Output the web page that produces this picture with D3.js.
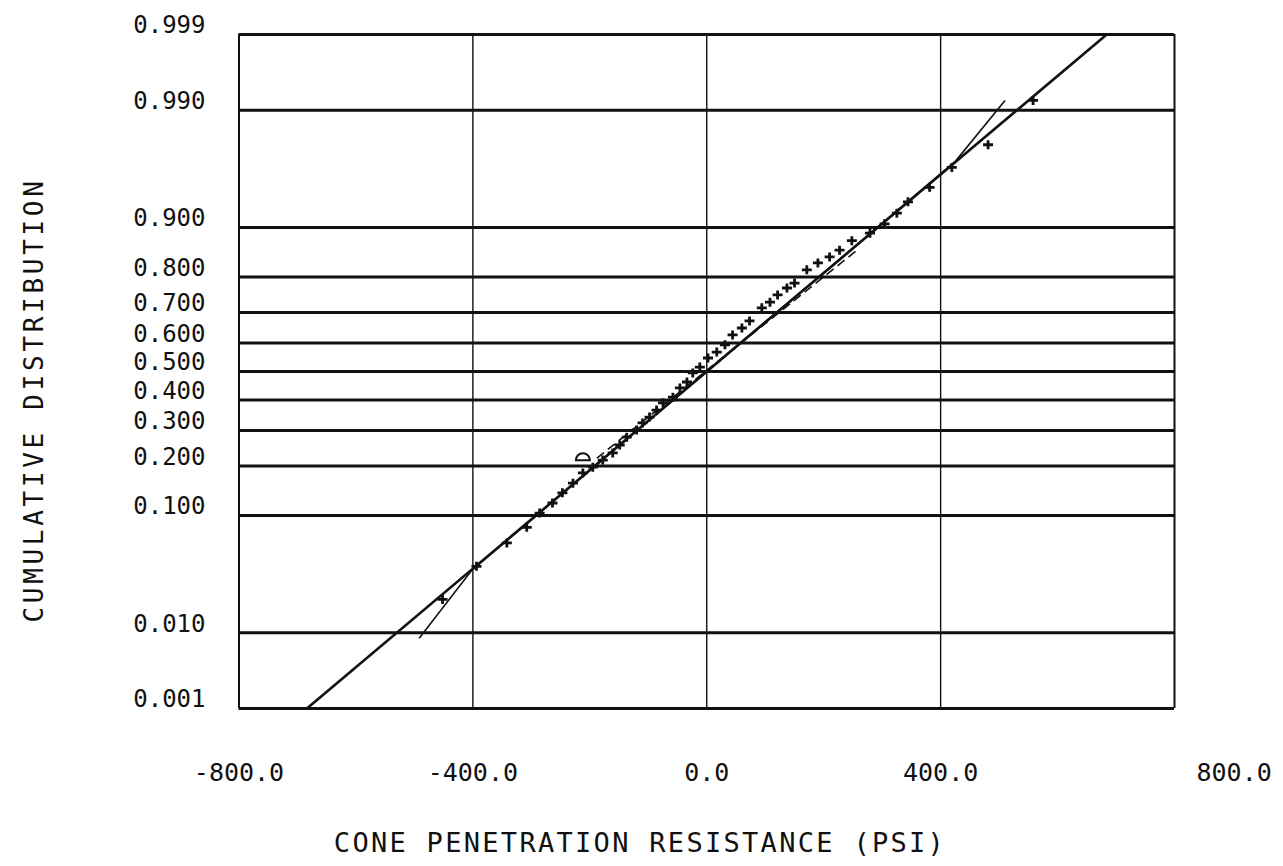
<!DOCTYPE html>
<html>
<head>
<meta charset="utf-8">
<script src="https://cdnjs.cloudflare.com/ajax/libs/d3/7.8.5/d3.min.js"></script>
<style>
	body { margin: 0; background: #fff; }
	text { font-family: "DejaVu Sans Mono", monospace; fill: #111; }
</style>
</head>
<body>
<div id="chart"></div>
<script>

// Etiquetas del eje de probabilidad
var probTicks = [0.001, 0.010, 0.100, 0.200, 0.300, 0.400, 0.500, 0.600, 0.700, 0.800, 0.900, 0.990, 0.999];
var probLabels = ["0.001", "0.010", "0.100", "0.200", "0.300", "0.400", "0.500", "0.600", "0.700", "0.800", "0.900", "0.990", "0.999"];

// Etiquetas del eje x
var xTicks = [-800, -400, 0, 400, 800];
var xLabels = ["-800.0", "-400.0", "0.0", "400.0", "800.0"];

// Observaciones ordenadas (psi) y su distribucion acumulada
var obsValues = [-451, -393, -341, -307, -285, -263, -246, -228, -211, -194, -177, -160, -148, -136,
	-119, -109, -97, -85, -74, -57, -45, -33, -23, -11, 3, 18, 32, 45, 61, 74, 95, 109, 122, 138,
	151, 172, 191, 211, 228, 249, 280, 305, 326, 345, 382, 420, 482, 559];
var obsProbs = [0.021, 0.041, 0.063, 0.082, 0.103, 0.120, 0.139, 0.159, 0.182, 0.196, 0.214, 0.233,
	0.255, 0.278, 0.300, 0.322, 0.341, 0.364, 0.388, 0.408, 0.440, 0.461, 0.493, 0.514, 0.546, 0.567,
	0.592, 0.626, 0.649, 0.672, 0.713, 0.730, 0.751, 0.770, 0.783, 0.816, 0.832, 0.845, 0.859, 0.877,
	0.890, 0.905, 0.920, 0.934, 0.949, 0.965, 0.978, 0.992];

// Ajuste normal (linea gruesa)
var fitMean = 2,
	fitSd = 228;

// Linea fina: se separa del ajuste solo en las colas
var thinValues = [-491, -401, 426, 511],
	thinProbs = [0.0087, 0.038, 0.969, 0.992];

// Linea discontinua
var dashValues = [-187, 258],
	dashProbs = [0.219, 0.859];

// Marca circular
var circleValue = -211,
	circleProb = 0.224;

var zLimit = 3;

// Inversa de la normal (Acklam)
function qnorm(p) {
	var a = [-3.969683028665376e+01, 2.209460984245205e+02, -2.759285104469687e+02, 1.383577518672690e+02, -3.066479806614716e+01, 2.506628277459239e+00],
		b = [-5.447609879822406e+01, 1.615858368580409e+02, -1.556989798598866e+02, 6.680131188771972e+01, -1.328068155288572e+01],
		c = [-7.784894002430293e-03, -3.223964580411365e-01, -2.400758277161838e+00, -2.549732539343734e+00, 4.374664141464968e+00, 2.938163982698783e+00],
		d = [7.784695709041462e-03, 3.224671290700398e-01, 2.445134137142996e+00, 3.754408661907416e+00],
		pl = 0.02425, q, r
	if (p < pl) {
		q = Math.sqrt(-2 * Math.log(p))
		return (((((c[0]*q+c[1])*q+c[2])*q+c[3])*q+c[4])*q+c[5]) / ((((d[0]*q+d[1])*q+d[2])*q+d[3])*q+1)
	}
	if (p > 1 - pl) {
		q = Math.sqrt(-2 * Math.log(1 - p))
		return -(((((c[0]*q+c[1])*q+c[2])*q+c[3])*q+c[4])*q+c[5]) / ((((d[0]*q+d[1])*q+d[2])*q+d[3])*q+1)
	}
	q = p - 0.5
	r = q * q
	return (((((a[0]*r+a[1])*r+a[2])*r+a[3])*r+a[4])*r+a[5])*q / (((((b[0]*r+b[1])*r+b[2])*r+b[3])*r+b[4])*r+1)
}

function probZ(p) {
	return Math.max(-zLimit, Math.min(zLimit, qnorm(p)))
}

var width = 1283,
	height = 866,
	margin = {left: 238.5, right: 109, top: 34, bottom: 158},
	plotW = width - margin.left - margin.right,
	plotH = height - margin.top - margin.bottom;

var svg = d3.select('#chart')
	.append('svg')
	.attr('width', width)
	.attr('height', height)

var g = svg.append('g')
	.attr('transform', 'translate(' + margin.left + ',' + margin.top + ')')

var x = d3.scaleLinear()
	.domain([-800, 800])
	.range([0, plotW])

var y = d3.scaleLinear()
	.domain([-zLimit, zLimit])
	.range([plotH, 0])

// Rejilla vertical y etiquetas x
var xAxis = g.append('g')
	.attr('transform', 'translate(0,' + plotH + ')')
	.call(d3.axisBottom(x)
		.tickValues(xTicks)
		.tickSize(-plotH)
		.tickFormat(function (d, i) { return xLabels[i] }))

xAxis.select('.domain').remove()
xAxis.selectAll('.tick line')
	.attr('stroke', '#111')
	.attr('stroke-width', function (d, i) { return (i == 0 || i == xTicks.length - 1) ? 2 : 1.4 })

// la ultima etiqueta queda desplazada hacia el borde, como en el original
xAxis.selectAll('.tick text')
	.attr('x', function (d, i) { return i == xTicks.length - 1 ? 22 : 0 })
	.attr('y', 73)
	.attr('dy', 0)
	.attr('text-anchor', function (d, i) { return i == xTicks.length - 1 ? 'start' : 'middle' })
	.style('font-size', '25px')

// Rejilla horizontal y etiquetas de probabilidad
var yAxis = g.append('g')
	.call(d3.axisLeft(y)
		.tickValues(probTicks.map(probZ))
		.tickSize(-plotW)
		.tickPadding(33)
		.tickFormat(function (d, i) { return probLabels[i] }))

yAxis.select('.domain').remove()
yAxis.selectAll('.tick line')
	.attr('stroke', '#111')
	.attr('stroke-width', 3)
yAxis.selectAll('.tick text')
	.attr('dy', '-0.05em')
	.style('font-size', '24px')

// Linea de ajuste normal
var line = d3.line()
	.x(function (d) { return x(d[0]) })
	.y(function (d) { return y(d[1]) })

g.append('path')
	.datum([[fitMean - zLimit * fitSd, -zLimit], [fitMean + zLimit * fitSd, zLimit]])
	.attr('d', line)
	.attr('fill', 'none')
	.attr('stroke', '#111')
	.attr('stroke-width', 2.6)

g.append('path')
	.datum(thinValues.map(function (v, i) { return [v, qnorm(thinProbs[i])] }))
	.attr('d', line)
	.attr('fill', 'none')
	.attr('stroke', '#111')
	.attr('stroke-width', 1.6)

g.append('path')
	.datum(dashValues.map(function (v, i) { return [v, qnorm(dashProbs[i])] }))
	.attr('d', line)
	.attr('fill', 'none')
	.attr('stroke', '#111')
	.attr('stroke-width', 1.6)
	.attr('stroke-dasharray', '9,5')

// Puntos observados
g.selectAll('.obs')
	.data(obsValues)
	.enter()
	.append('path')
	.attr('class', 'obs')
	.attr('transform', function (d, i) { return 'translate(' + x(d) + ',' + y(qnorm(obsProbs[i])) + ')' })
	.attr('d', 'M-5,0H5M0,-4.5V4.5')
	.attr('stroke', '#111')
	.attr('stroke-width', 2.8)

g.append('path')
	.attr('transform', 'translate(' + x(circleValue) + ',' + y(qnorm(circleProb)) + ')')
	.attr('d', 'M-7,4A7,7 0 1,1 7,4Z')
	.attr('fill', 'none')
	.attr('stroke', '#111')
	.attr('stroke-width', 2)

// Titulos de los ejes
svg.append('text')
	.attr('x', 640)
	.attr('y', 852)
	.attr('text-anchor', 'middle')
	.style('font-size', '27px')
	.style('letter-spacing', '2.3px')
	.text('CONE PENETRATION RESISTANCE (PSI)')

svg.append('text')
	.attr('transform', 'translate(43,400) rotate(-90)')
	.attr('text-anchor', 'middle')
	.style('font-size', '26px')
	.style('letter-spacing', '3.7px')
	.text('CUMULATIVE DISTRIBUTION')

</script>
</body>
</html>
